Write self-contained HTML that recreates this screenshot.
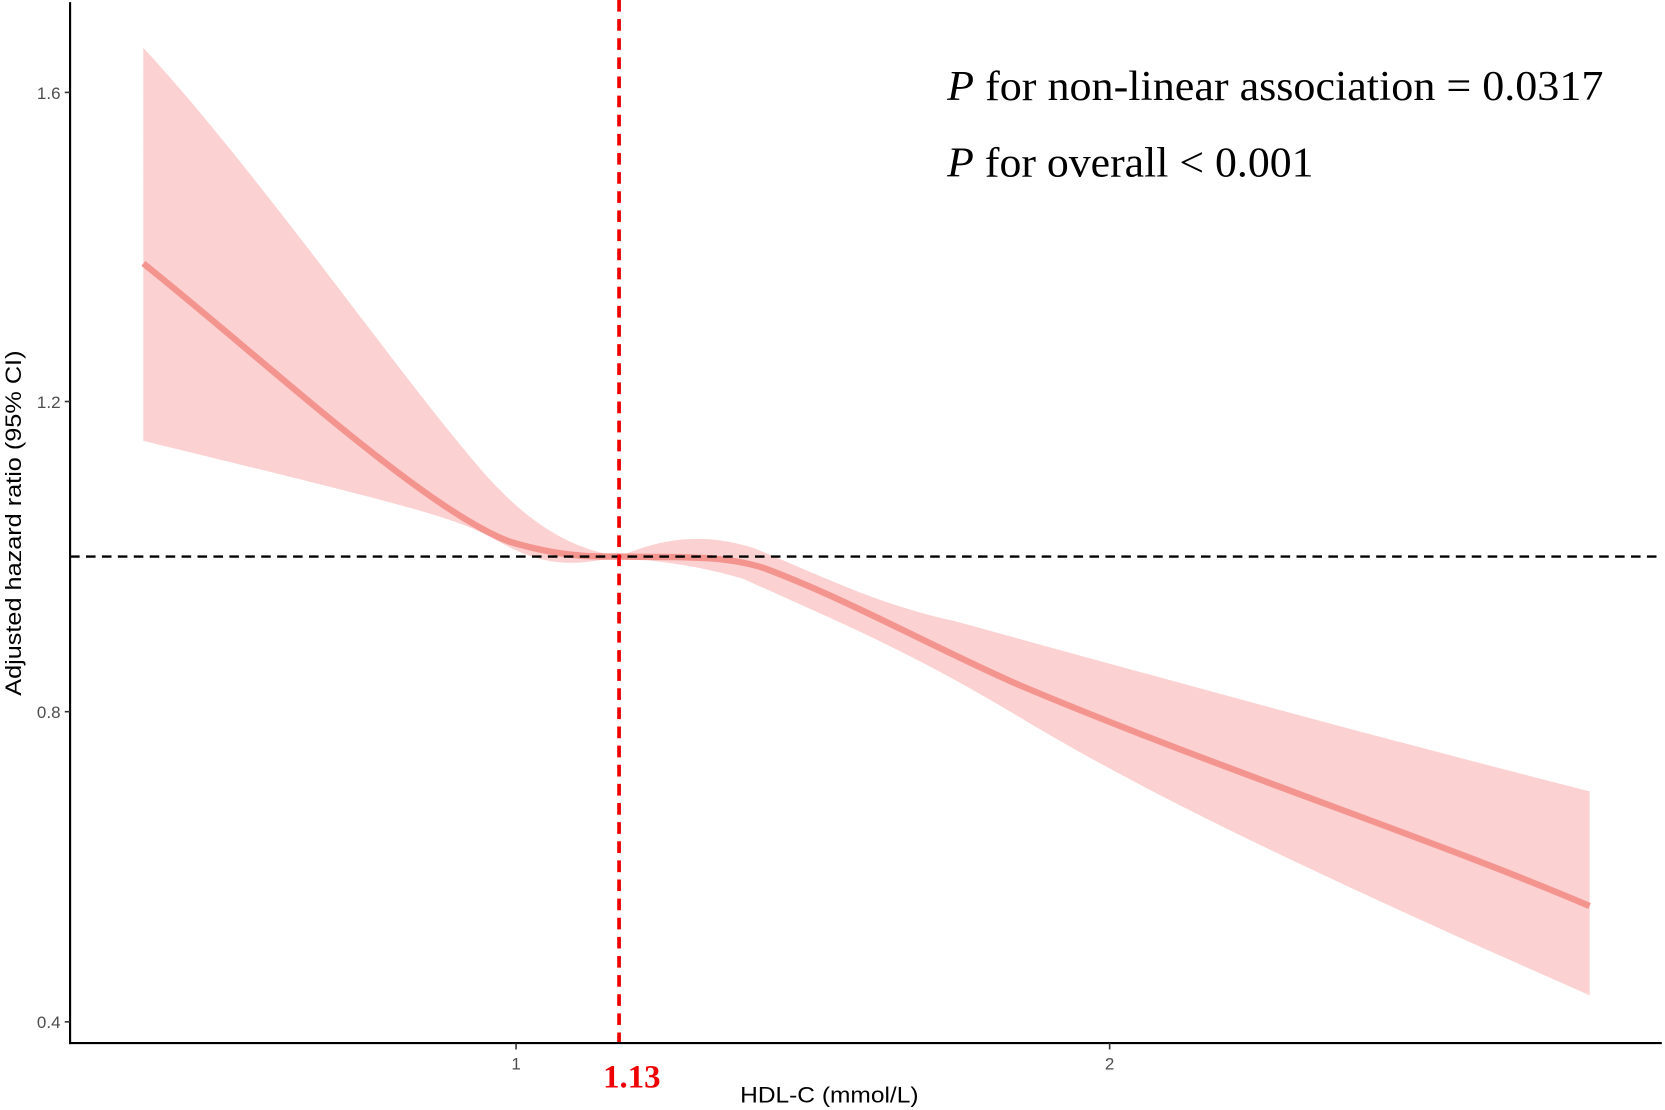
<!DOCTYPE html>
<html><head><style>html,body{margin:0;padding:0;background:#fff}svg{display:block}</style></head><body>
<svg width="1665" height="1110" viewBox="0 0 1568 1045" preserveAspectRatio="none" xmlns="http://www.w3.org/2000/svg">
<path d="M135,45 C250,170 380,360 460,450 C510,505 550,518 583,524 C620,508 660,500 710,516 C780,545 830,570 900,585 C1100,640 1300,695 1497,745 L1497,937 C1300,850 1100,760 960,675 C860,615 800,590 700,545 C650,530 610,528 583,524 C550,530 520,538 470,510 C430,488 410,482 135,415 Z" fill="#f8a3a3" fill-opacity="0.5"/>
<path d="M135,248 C250,340 400,480 480,510 C530,525 560,524 583,524 C640,525 680,522 720,535 C800,565 880,610 960,645 C1150,725 1350,790 1497,853" fill="none" stroke="#f4948f" stroke-width="6"/>
<line x1="66" y1="524" x2="1565" y2="524" stroke="#000" stroke-width="2.2" stroke-dasharray="9,6"/>
<line x1="583" y1="0" x2="583" y2="982" stroke="#ee0000" stroke-width="3.5" stroke-dasharray="11,7"/>
<line x1="66" y1="2" x2="66" y2="983" stroke="#000" stroke-width="2"/>
<line x1="65" y1="982" x2="1565" y2="982" stroke="#000" stroke-width="2"/>
<g stroke="#333" stroke-width="1.5">
<line x1="61" y1="87" x2="66" y2="87"/><line x1="61" y1="378" x2="66" y2="378"/><line x1="61" y1="670" x2="66" y2="670"/><line x1="61" y1="962" x2="66" y2="962"/>
<line x1="486" y1="982" x2="486" y2="988"/><line x1="1045" y1="982" x2="1045" y2="988"/>
</g>
<g font-family="Liberation Sans, sans-serif" font-size="16" fill="#4d4d4d" text-anchor="end">
<text x="57" y="93">1.6</text><text x="57" y="384">1.2</text><text x="57" y="676">0.8</text><text x="57" y="968">0.4</text>
</g>
<g font-family="Liberation Sans, sans-serif" font-size="16" fill="#4d4d4d" text-anchor="middle">
<text x="486" y="1007">1</text><text x="1045" y="1007">2</text>
</g>
<text x="697" y="1038" font-family="Liberation Sans, sans-serif" font-size="21" textLength="168" lengthAdjust="spacingAndGlyphs">HDL-C (mmol/L)</text>
<text transform="translate(20,655) rotate(-90)" font-family="Liberation Sans, sans-serif" font-size="21" textLength="325" lengthAdjust="spacingAndGlyphs">Adjusted hazard ratio  (95% CI)</text>
<text x="568" y="1024" font-family="Liberation Serif, serif" font-size="31" font-weight="bold" fill="#ee0000" textLength="54" lengthAdjust="spacingAndGlyphs">1.13</text>
<text x="892" y="94" font-family="Liberation Serif, serif" font-size="40" textLength="618" lengthAdjust="spacingAndGlyphs"><tspan font-style="italic">P</tspan> for non-linear association = 0.0317</text>
<text x="892" y="166" font-family="Liberation Serif, serif" font-size="40" textLength="345" lengthAdjust="spacingAndGlyphs"><tspan font-style="italic">P</tspan> for overall &lt; 0.001</text>
</svg>
</body></html>
